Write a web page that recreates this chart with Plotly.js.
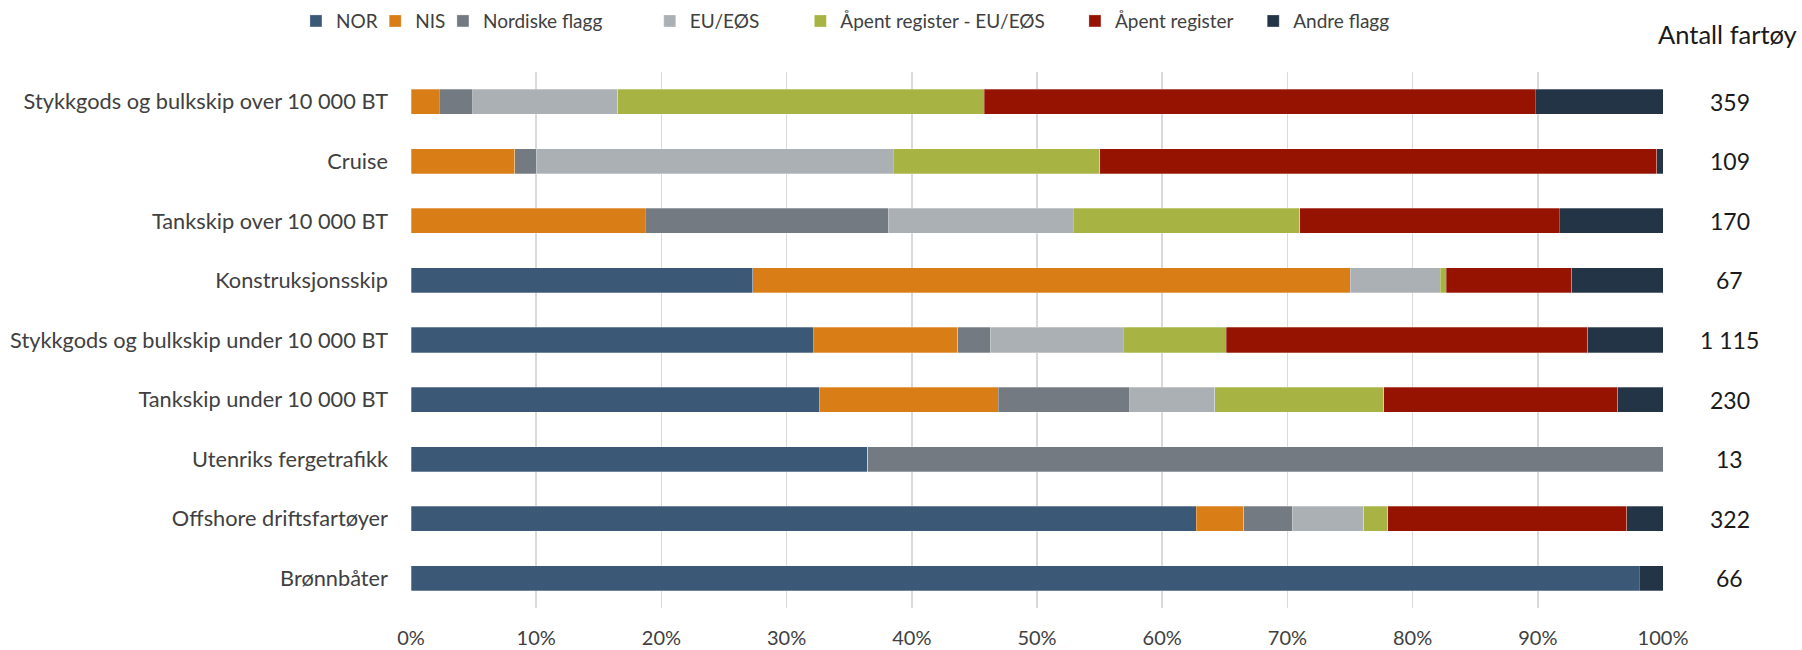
<!DOCTYPE html>
<html>
<head>
<meta charset="utf-8">
<script src="https://cdn.plot.ly/plotly-3.0.1.min.js"></script>
<style>html,body{margin:0;padding:0;background:#fff;}#chart{width:1802px;height:650px;}</style>
</head>
<body>
<div id="chart"></div>
<script>
// Categories (top to bottom)
const categories = [
  "Stykkgods og bulkskip over 10 000 BT",
  "Cruise",
  "Tankskip over 10 000 BT",
  "Konstruksjonsskip",
  "Stykkgods og bulkskip under 10 000 BT",
  "Tankskip under 10 000 BT",
  "Utenriks fergetrafikk",
  "Offshore driftsfartøyer",
  "Brønnbåter"
];
// Share (%) per flag group
const nor      = [0,    0,    0,    27.3, 32.2, 32.6, 36.5, 62.7, 98.1];
const nis      = [2.25, 8.3,  18.7, 47.7, 11.5, 14.3, 0,    3.8,  0];
const nordiske = [2.7,  1.7,  19.4, 0,    2.6,  10.5, 63.5, 3.9,  0];
const euEos    = [11.55,28.5, 14.8, 7.2,  10.6, 6.8,  0,    5.7,  0];
const apentEu  = [29.3, 16.5, 18.1, 0.5,  8.25, 13.5, 0,    1.9,  0];
const apent    = [44.0, 44.5, 20.7, 10.0, 28.9, 18.7, 0,    19.1, 0];
const andre    = [10.2, 0.5,  8.3,  7.3,  6.0,  3.6,  0,    2.9,  1.9];
// Number of vessels per category
const antall = ["359", "109", "170", "67", "1 115", "230", "13", "322", "66"];

const seriesNames = ["NOR", "NIS", "Nordiske flagg", "EU/EØS", "Åpent register - EU/EØS", "Åpent register", "Andre flagg"];
const seriesValues = [nor, nis, nordiske, euEos, apentEu, apent, andre];
const seriesColors = ["#3B5876", "#D97E17", "#737A82", "#ABB0B5", "#A7B343", "#951300", "#243447"];

const FONT = "Lato, 'Liberation Sans', Arial, sans-serif";
const legendIds = ["legend", "legend2", "legend3", "legend4", "legend5", "legend6", "legend7"];
const legendX = [-0.0919, -0.0286, 0.0255, 0.1907, 0.3110, 0.5303, 0.6727];

const traces = seriesNames.map((n, i) => ({
  type: "bar",
  orientation: "h",
  name: n,
  legend: legendIds[i],
  y: categories,
  x: seriesValues[i],
  marker: {color: seriesColors[i], line: {color: "rgba(255,255,255,0.35)", width: 0.8}},
  hoverinfo: "name+x"
}));

const annotations = categories.map((c, i) => ({
  xref: "paper", yref: "y", x: 1.0535, y: c,
  text: antall[i], showarrow: false, xanchor: "center", yanchor: "middle",
  font: {family: FONT, size: 23, color: "#1a1a1a"}
}));
annotations.push({
  xref: "paper", yref: "paper", x: 1.0515, y: 1.07,
  text: "Antall fartøy", showarrow: false, xanchor: "center", yanchor: "middle",
  font: {family: FONT, size: 25.5, color: "#1a1a1a"}
});

const layout = {
  width: 1802, height: 650,
  margin: {l: 411, r: 139, t: 72, b: 42, autoexpand: false},
  paper_bgcolor: "#fff", plot_bgcolor: "#fff",
  barmode: "stack",
  barnorm: "percent",
  bargap: 0.58,
  font: {family: FONT, color: "#404040"},
  xaxis: {
    range: [0, 100], dtick: 10, ticksuffix: "%",
    showgrid: true, gridcolor: "#D9D9D9", gridwidth: 1.5,
    zeroline: false, showline: false, ticks: "",
    tickfont: {family: FONT, size: 20, color: "#404040"},
    ticklabelstandoff: 16, fixedrange: true, automargin: false
  },
  yaxis: {
    type: "category", categoryorder: "array", categoryarray: categories,
    autorange: "reversed", showgrid: false, zeroline: false, showline: false, ticks: "",
    tickfont: {family: FONT, size: 21.75, color: "#404040"},
    ticklabelstandoff: 22, fixedrange: true, automargin: false
  },
  showlegend: true,
  annotations: annotations
};
legendIds.forEach((id, i) => {
  layout[id] = {
    orientation: "h", x: legendX[i], xanchor: "left", y: 1.095, yanchor: "middle",
    font: {family: FONT, size: 19, color: "#404040"},
    bgcolor: "rgba(0,0,0,0)",
    itemwidth: 30, itemclick: false, itemdoubleclick: false
  };
});

Plotly.newPlot("chart", traces, layout, {displayModeBar: false, staticPlot: true});
</script>
</body>
</html>
